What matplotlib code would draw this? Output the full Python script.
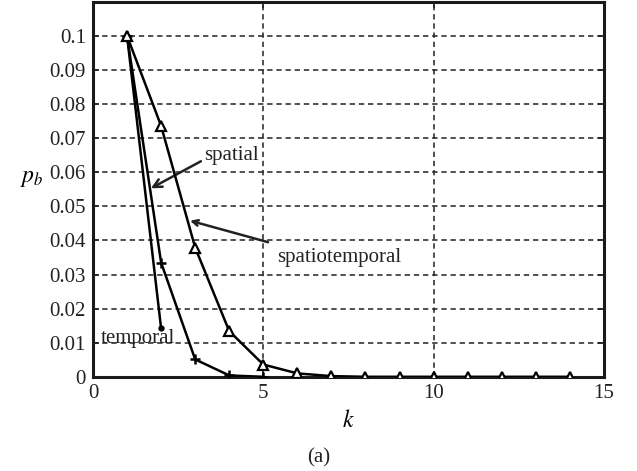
import matplotlib
matplotlib.use("Agg")
import matplotlib.pyplot as plt

plt.rcParams['font.family'] = ['Liberation Serif', 'DejaVu Serif']
plt.rcParams['mathtext.fontset'] = 'stix'

k_spatiotemporal = [1, 2, 3, 4, 5, 6, 7, 8, 9, 10, 11, 12, 13, 14]
pb_spatiotemporal = [0.1, 0.0736, 0.0379, 0.0134, 0.0036, 0.001, 0.0002, 0, 0, 0, 0, 0, 0, 0]
k_spatial = [1, 2, 3, 4, 5]
pb_spatial = [0.1, 0.0335, 0.0051, 0.0004, 0]
k_temporal = [1, 2]
pb_temporal = [0.1, 0.0142]

xticks = [0, 5, 10, 15]
yticks = [0, 0.01, 0.02, 0.03, 0.04, 0.05, 0.06, 0.07, 0.08, 0.09, 0.1]
ytick_labels = ['0', '0.01', '0.02', '0.03', '0.04', '0.05', '0.06', '0.07', '0.08', '0.09', '0.1']

fig = plt.figure(figsize=(6.37, 4.71), dpi=100)
ax = fig.add_axes([0.146, 0.2, 0.802, 0.796])

lw = 1.8
ax.plot(k_temporal, pb_temporal, color='black', lw=lw, marker='o', ms=3.5, zorder=3)
ax.plot(k_spatial, pb_spatial, color='black', lw=lw, marker='+', ms=7, mew=1.8, zorder=3)
ax.plot(k_spatiotemporal, pb_spatiotemporal, color='black', lw=lw, marker='^', ms=7,
        mfc='white', mec='black', mew=1.6, zorder=4)

ax.set_xlim(0, 15)
ax.set_ylim(0, 0.11)
ax.set_xticks(xticks)
ax.set_yticks(yticks)
ax.set_yticklabels(ytick_labels)
ax.tick_params(direction='in', length=4, width=1.2, top=True, right=True,
               labelsize=15, colors='#222222', pad=5)
ax.grid(True, color='#222222', linestyle=(0, (3.5, 2.5)), linewidth=1.1)
for s in ax.spines.values():
    s.set_linewidth(2.2)
    s.set_color('#1a1a1a')

ax.set_xlabel('$k$', fontsize=17, labelpad=5)
ax.set_ylabel('$p_b$', fontsize=17, rotation=0)
ax.yaxis.set_label_coords(-0.12, 0.50)

ax.annotate('spatial', xy=(1.7, 0.0553), xytext=(3.25, 0.0648), fontsize=15,
            va='center', ha='left', color='#222222',
            arrowprops=dict(arrowstyle='->', color='#222222', lw=1.8,
                            shrinkA=0, shrinkB=0, relpos=(0, 0.3)))
ax.annotate('', xy=(2.85, 0.0458), xytext=(5.14, 0.0395),
            arrowprops=dict(arrowstyle='->', color='#222222', lw=1.8,
                            shrinkA=0, shrinkB=0))
ax.text(5.4, 0.035, 'spatiotemporal', fontsize=15, va='center', ha='left', color='#222222')
ax.text(0.23, 0.0113, 'temporal', fontsize=15, va='center', ha='left', color='#222222')

fig.text(0.5, 0.028, '(a)', fontsize=15, ha='center', va='center', color='#222222')

fig.savefig('out.png', dpi=100)
